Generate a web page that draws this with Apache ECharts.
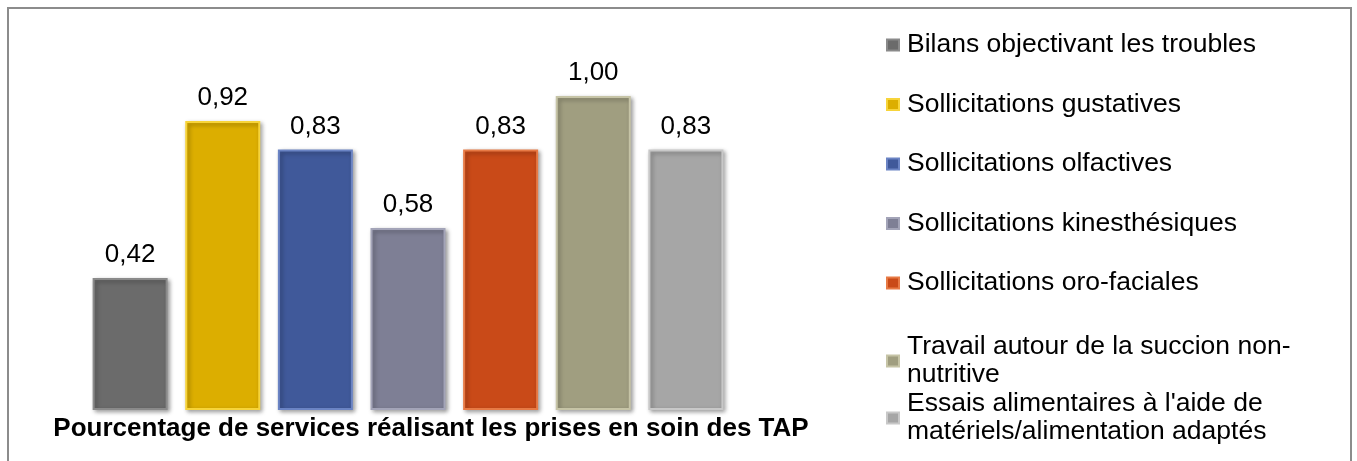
<!DOCTYPE html>
<html>
<head>
<meta charset="utf-8">
<script src="https://cdn.jsdelivr.net/npm/echarts@6/dist/echarts.min.js"></script>
<style>
	html, body { margin: 0; padding: 0; background: #fff; }
	#chart { width: 1357px; height: 461px; }
</style>
</head>
<body>
<div id="chart"></div>
<script>
// one category, seven series (Excel-style clustered bar)
const categories = ['Pourcentage de services réalisant les prises en soin des TAP'];
const seriesNames = [
	'Bilans objectivant les troubles',
	'Sollicitations gustatives',
	'Sollicitations olfactives',
	'Sollicitations kinesthésiques',
	'Sollicitations oro-faciales',
	'Travail autour de la succion non-nutritive',
	"Essais alimentaires à l'aide de matériels/alimentation adaptés"
];
const legendLabels = [
	'Bilans objectivant les troubles',
	'Sollicitations gustatives',
	'Sollicitations olfactives',
	'Sollicitations kinesthésiques',
	'Sollicitations oro-faciales',
	'Travail autour de la succion non-\nnutritive',
	"Essais alimentaires à l'aide de\nmatériels/alimentation adaptés"
];
const values = [0.42, 0.92, 0.83, 0.58, 0.83, 1.00, 0.83];
const colors = ['#6b6b6b', '#dcae00', '#40599a', '#7e7f95', '#c94a18', '#a09e80', '#a6a6a6'];
const edgeColors = ['#8a8a8a', '#f7d43a', '#6b84c4', '#a3a4b8', '#e77a45', '#c6c4a6', '#c8c8c8'];

const chart = echarts.init(document.getElementById('chart'), null, { renderer: 'canvas' });

const FONT = '"Liberation Sans", Arial, sans-serif';

const series = seriesNames.map(function (name, i) {
	return {
		name: name,
		type: 'bar',
		barWidth: 75,
		barGap: '23.5%',
		data: [values[i]],
		itemStyle: {
			color: colors[i],
			borderColor: edgeColors[i],
			borderWidth: 2,
			shadowColor: 'rgba(0,0,0,0.35)',
			shadowBlur: 4,
			shadowOffsetX: 2,
			shadowOffsetY: 2
		},
		label: {
			show: true,
			position: 'top',
			distance: 10,
			color: '#000',
			fontFamily: FONT,
			fontSize: 26,
			formatter: function (p) {
				return p.value.toFixed(2).replace('.', ',');
			}
		}
	};
});

function legendBox(names, top, gap) {
	return {
		orient: 'vertical',
		left: 881,
		top: top,
		itemWidth: 12,
		itemHeight: 11,
		itemGap: gap,
		icon: 'rect',
		data: names,
		formatter: function (name) {
			return legendLabels[seriesNames.indexOf(name)];
		},
		textStyle: {
			fontFamily: FONT,
			fontSize: 26.5,
			lineHeight: 28,
			color: '#000',
			padding: [0, 0, 0, 3]
		}
	};
}

chart.setOption({
	animation: false,
	backgroundColor: '#fff',
	color: colors,
	graphic: [{
		type: 'rect',
		shape: { x: 8, y: 8, width: 1343, height: 520 },
		style: { fill: 'none', stroke: '#8c8c8c', lineWidth: 2 },
		silent: true
	}],
	grid: {
		left: 0,
		right: 541,
		top: 33.2,
		bottom: 51
	},
	legend: [
		legendBox(seriesNames.slice(0, 5), 26, 31.5),
		legendBox(seriesNames.slice(5), 328, 1)
	],
	xAxis: {
		type: 'category',
		data: categories,
		axisLine: { show: false },
		axisTick: { show: false },
		axisLabel: {
			margin: 6,
			fontFamily: FONT,
			fontSize: 26,
			fontWeight: 'bold',
			color: '#000',
			padding: [0, 0, 0, 46]
		}
	},
	yAxis: {
		type: 'value',
		min: 0,
		max: 1.2,
		show: false,
		splitLine: { show: false }
	},
	series: series
});
</script>
</body>
</html>
